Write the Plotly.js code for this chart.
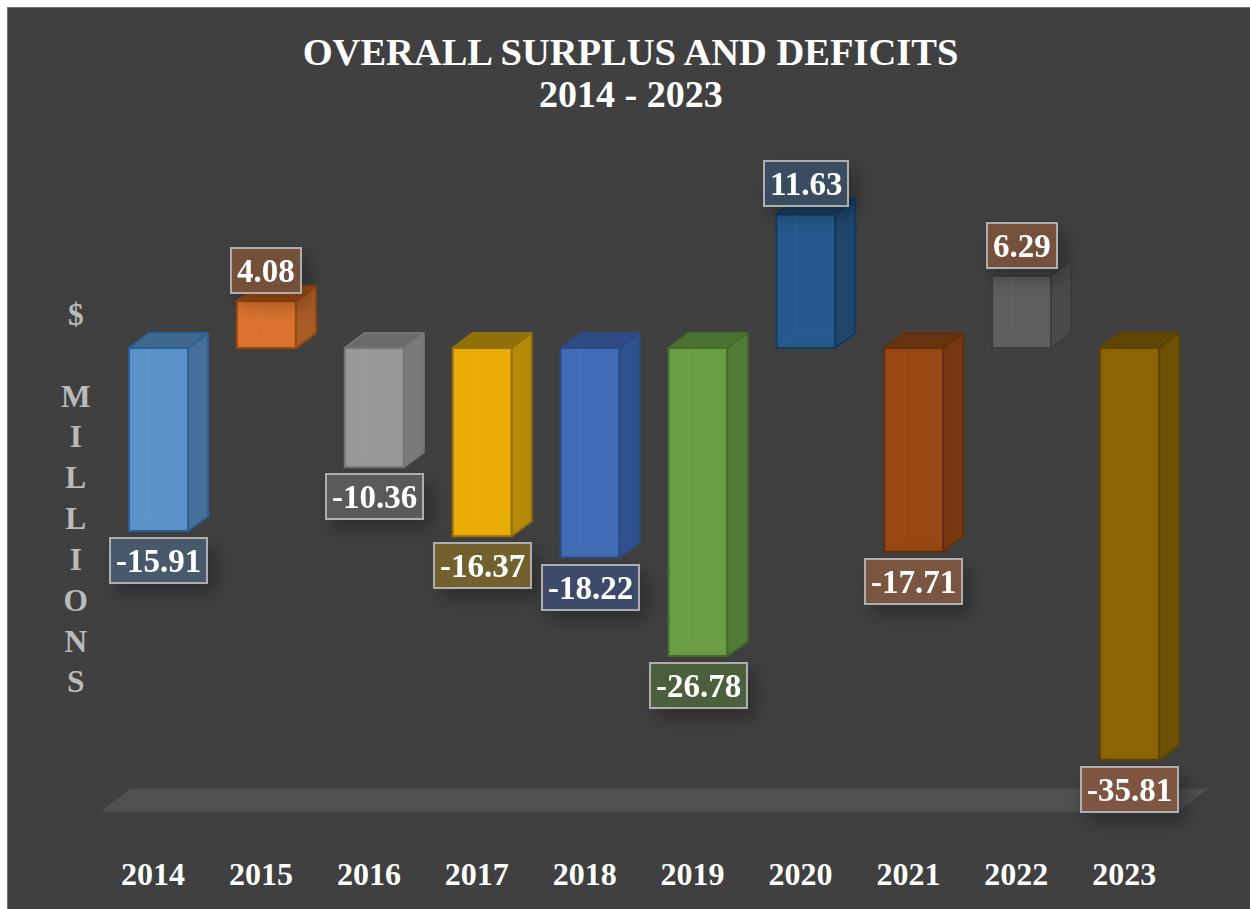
<!DOCTYPE html>
<html>
<head>
<meta charset="utf-8">
<script src="https://cdn.plot.ly/plotly-3.0.1.min.js"></script>
<style>
  html, body { margin: 0; padding: 0; background: #ffffff; overflow: hidden; }
  #chart { position: absolute; left: 7px; top: 7px; width: 1242px; height: 901px;
           border-left: 1px solid #6f6f6f; border-top: 1px solid #6f6f6f; }
</style>
</head>
<body>
<div id="chart"></div>
<script>
// Annual overall result, $ millions
const years = [2014, 2015, 2016, 2017, 2018, 2019, 2020, 2021, 2022, 2023];
const values = [-15.91, 4.08, -10.36, -16.37, -18.22, -26.78, 11.63, -17.71, 6.29, -35.81];

// Face colours for each column
const frontColors = ['#5b92c8', '#d8722e', '#989898', '#e9ab07', '#436cb6', '#6a9e44', '#245a8b', '#964713', '#5e5e5e', '#8b6505'];
const edgeColors  = ['#2b6294', '#99490f', '#767676', '#94700a', '#2a4a80', '#466b2d', '#153a5c', '#62300d', '#3c3c3c', '#5d4403'];
const sideColors  = ['#466f9b', '#a85c25', '#7a7a7a', '#b58a08', '#2f5190', '#507c35', '#1f466d', '#75380f', '#4a4a4a', '#6d5004'];
const topColors   = ['#3f688f', '#a34f15', '#6a6a6a', '#8f700a', '#2f4b85', '#4a7331', '#1a4064', '#683310', '#444444', '#5f4604'];
const labelColors = ['#47596b', '#744f3a', '#5a5a5a', '#72602f', '#3d4a6a', '#4c5f3c', '#3a4c5f', '#7a5540', '#75503a', '#7d5540'];

// Axis ranges chosen so one year is 107.9px wide and one million is 11.5px tall
const xRange = [2012.605, 2024.116];
const yRange = [-41.91, 18.96];

// Depth of the extruded look, in axis units
const barWidth = 0.547;
const depthX = 0.185;
const depthY = 1.3;

const serif = '"Liberation Serif", "Times New Roman", serif';
const traces = [];

// Front faces
traces.push({
  type: 'bar', x: years, y: values, width: barWidth,
  marker: { color: frontColors, line: { color: edgeColors, width: 2 } },
  hoverinfo: 'x+y', showlegend: false
});

// Top and side faces as filled outlines built from each value
years.forEach((yr, i) => {
  const hi = Math.max(values[i], 0);
  const lo = Math.min(values[i], 0);
  const x0 = yr - barWidth / 2;
  const x1 = yr + barWidth / 2;
  const face = (xs, ys, fill) => traces.push({
    type: 'scatter', mode: 'lines', x: xs, y: ys, fill: 'toself', fillcolor: fill,
    line: { color: edgeColors[i], width: 2 }, hoverinfo: 'skip', showlegend: false
  });
  face([x0, x1, x1 + depthX, x0 + depthX, x0], [hi, hi, hi + depthY, hi + depthY, hi], topColors[i]);
  face([x1, x1 + depthX, x1 + depthX, x1, x1], [hi, hi + depthY, lo + depthY, lo, hi], sideColors[i]);
  // Faint hidden edges seen through the front face
  traces.push({
    type: 'scatter', mode: 'lines',
    x: [x0, x0 + depthX, x0 + depthX, x0 + depthX, x1],
    y: [lo, lo + depthY, hi, lo + depthY, lo + depthY],
    line: { color: 'rgba(255,255,255,0.035)', width: 1 }, hoverinfo: 'skip', showlegend: false
  });
});

// Value labels, placed just outside the open end of each column
const valueLabels = years.map((yr, i) => ({
  x: yr, y: values[i], xref: 'x', yref: 'y',
  text: '<b>' + values[i].toFixed(2) + '</b>', showarrow: false,
  xanchor: 'center', yanchor: values[i] < 0 ? 'top' : 'bottom',
  yshift: values[i] < 0 ? -6 : 7,
  font: { family: serif, size: 33, color: '#ffffff' },
  bgcolor: labelColors[i], bordercolor: '#aeaeae', borderwidth: 2, borderpad: 5, height: 33
}));

// Second title line
const titleYears = {
  xref: 'paper', yref: 'paper', x: 622.5 / 1242, y: 1.0514,
  text: '<b>2014 - 2023</b>', showarrow: false, xanchor: 'center', yanchor: 'middle',
  font: { family: serif, size: 38, color: '#ffffff' }
};

// Stacked vertical unit label
const unitLabel = {
  xref: 'paper', yref: 'paper', x: 68 / 1242, y: 0.475,
  text: '<b>$<br> <br>M<br>I<br>L<br>L<br>I<br>O<br>N<br>S</b>',
  showarrow: false, align: 'center', xanchor: 'center', yanchor: 'middle',
  font: { family: serif, size: 31.4, color: '#bababa' }
};

const layout = {
  width: 1242, height: 901,
  paper_bgcolor: '#404040', plot_bgcolor: 'rgba(0,0,0,0)',
  margin: { l: 0, r: 0, t: 122, b: 79, pad: 0 },
  font: { family: serif },
  showlegend: false,
  title: {
    text: '<b>OVERALL SURPLUS AND DEFICITS</b>',
    x: 622.5 / 1242, xanchor: 'center', y: 1 - 44 / 901, yanchor: 'middle',
    font: { family: serif, size: 38.5, color: '#ffffff' }
  },
  xaxis: {
    type: 'linear', range: xRange, showgrid: false, zeroline: false, showline: false,
    tickmode: 'array', tickvals: years.map(y => y - 0.05), ticktext: years.map(y => '<b>' + y + '</b>'),
    ticks: '', ticklabelstandoff: 22,
    tickfont: { family: serif, size: 32, color: '#ffffff' }
  },
  yaxis: { range: yRange, visible: false, showgrid: false, zeroline: false },
  shapes: [{
    // Floor plane under the columns
    type: 'path', layer: 'below', xref: 'x', yref: 'y',
    path: 'M 2013.46 -40.33 L 2013.74 -38.33 L 2023.73 -38.33 L 2023.45 -40.33 Z',
    fillcolor: '#514f50', line: { width: 0 }
  }],
  annotations: valueLabels.concat([titleYears, unitLabel])
};

Plotly.newPlot('chart', traces, layout, { staticPlot: true }).then(() => {
  // Soft drop shadow behind the value boxes
  document.querySelectorAll('#chart .annotation').forEach((g, i) => {
    if (i < values.length) g.style.filter = 'drop-shadow(7px 9px 9px rgba(0,0,0,0.3))';
  });
});
</script>
</body>
</html>
